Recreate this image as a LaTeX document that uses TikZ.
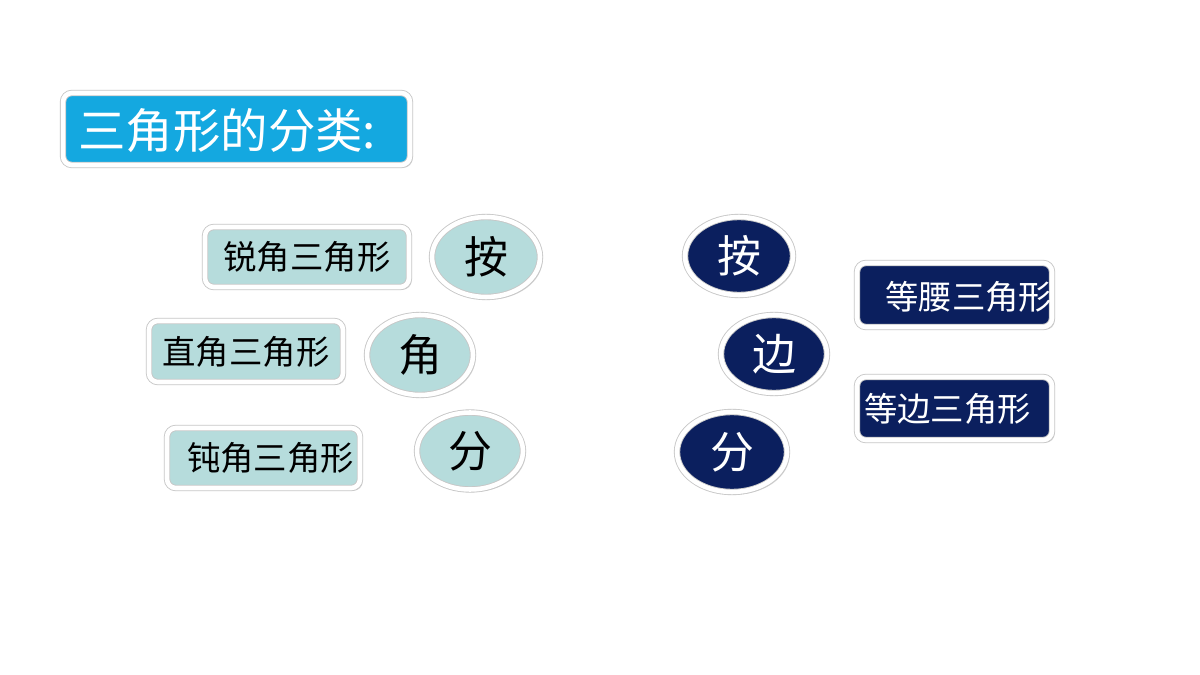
\documentclass[tikz,border=0pt]{standalone}
\usepackage{fontspec}
\setmainfont{Noto Sans CJK SC}
\usetikzlibrary{shapes.geometric,shadows}
\definecolor{titleblue}{HTML}{14A8E0}
\definecolor{palecyan}{HTML}{B6DCDC}
\definecolor{navy}{HTML}{0B1F5E}
\tikzset{softshadow/.style={drop shadow={opacity=0.3,shadow xshift=1.5pt,shadow yshift=-1.5pt}}}
\tikzset{whiterim/.style={draw=black!22,line width=0.5pt,double=white,double distance=2.6pt}}
\tikzset{titlebox/.style={rectangle,rounded corners=5pt,fill=titleblue,whiterim,softshadow,inner sep=0pt}}
\tikzset{palebox/.style={rectangle,rounded corners=5pt,fill=palecyan,whiterim,softshadow,inner sep=0pt,font=\fontsize{19}{19}\selectfont}}
\tikzset{paleoval/.style={ellipse,fill=palecyan,whiterim,softshadow,inner sep=0pt,font=\fontsize{25}{25}\selectfont}}
\tikzset{navybox/.style={rectangle,rounded corners=5pt,fill=navy,whiterim,softshadow,inner sep=0pt,text=white,font=\fontsize{19}{19}\selectfont}}
\tikzset{navyoval/.style={ellipse,fill=navy,whiterim,softshadow,inner sep=0pt,text=white,font=\fontsize{25}{25}\selectfont}}

\begin{document}
\begin{tikzpicture}[x=0.02cm,y=-0.02cm]
            \useasboundingbox[fill=white] (0,0) rectangle (1200,675);
            % title
            \node[titlebox,minimum width=6.94cm,minimum height=1.44cm] (title) at (236.5,129) {};
            \node[anchor=west,inner sep=0pt,text=white,font=\fontsize{27}{27}\selectfont] (titletext) at (78,131) {三角形的分类:};

            % by angle
            \node[palebox,minimum width=4.08cm,minimum height=1.2cm] (acute) at (307,257) {锐角三角形};
            \node[palebox,minimum width=3.88cm,minimum height=1.22cm] (right) at (246,351.5) {直角三角形};
            \node[palebox,minimum width=3.86cm,minimum height=1.2cm] (obtuse) at (263.5,458) {\hspace{8pt}钝角三角形};
            \node[paleoval,minimum width=2.16cm,minimum height=1.6cm] (an1) at (486,257) {按};
            \node[paleoval,minimum width=2.12cm,minimum height=1.6cm] (jiao) at (420,355) {角};
            \node[paleoval,minimum width=2.12cm,minimum height=1.54cm] (fen1) at (470,451) {分};

            % by side
            \node[navyoval,minimum width=2.16cm,minimum height=1.56cm] (an2) at (739,256) {按};
            \node[navyoval,minimum width=2.12cm,minimum height=1.56cm] (bian) at (774,354) {边};
            \node[navyoval,minimum width=2.2cm,minimum height=1.6cm] (fen2) at (732,452) {分};
            \node[navybox,minimum width=3.9cm,minimum height=1.28cm] (isosceles) at (954.5,295) {};
            \begin{scope}
                \clip (isosceles.south west) rectangle (isosceles.north east);
                \node[anchor=west,inner sep=0pt,text=white,font=\fontsize{19}{19}\selectfont] (isotext) at (885,297) {等腰三角形};
            \end{scope}
            \node[navybox,minimum width=3.9cm,minimum height=1.26cm] (equilateral) at (954.5,408.5) {\hspace{-8pt}等边三角形};
        \end{tikzpicture}
\end{document}
